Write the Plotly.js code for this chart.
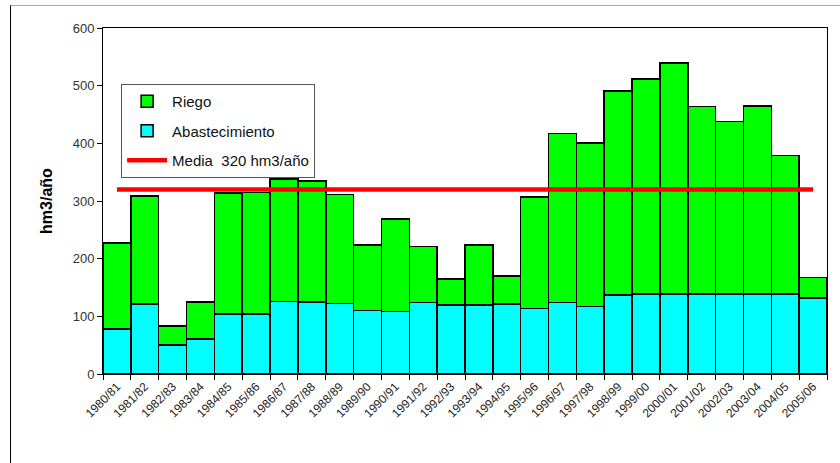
<!DOCTYPE html>
<html>
<head>
<meta charset="utf-8">
<script src="https://cdn.plot.ly/plotly-3.0.1.min.js"></script>
<style>
  body { margin: 0; padding: 0; background: #fff; }
  #chart { position: absolute; left: 0; top: 0; width: 840px; height: 463px; }
  #frame { position: absolute; left: 10px; top: 5px; width: 830px; height: 458px;
           border-top: 1px solid #aaaaaa; border-left: 1px solid #000; pointer-events: none; box-sizing: border-box; }
</style>
</head>
<body>
<div id="chart"></div>
<div id="frame"></div>
<script>
const categories = ["1980/81","1981/82","1982/83","1983/84","1984/85","1985/86","1986/87","1987/88","1988/89","1989/90","1990/91","1991/92","1992/93","1993/94","1994/95","1995/96","1996/97","1997/98","1998/99","1999/00","2000/01","2001/02","2002/03","2003/04","2004/05","2005/06"];
const abastecimiento = [78,121,50,61,104,104,126,125,122,110,108,124,120,120,121,114,124,117,137,139,139,139,139,139,139,132];
const riego = [149,188,33,64,210,211,212,210,189,114,161,97,45,104,49,193,293,284,354,373,400,325,299,326,240,35];
const mediaValue = 320;
const mediaLabel = "Media  320 hm3/año";
const yTicks = [0,100,200,300,400,500,600];

const traces = [
  { type: "bar", name: "Abastecimiento", x: categories, y: abastecimiento,
    marker: { color: "#00FFFF", line: { color: "#000", width: 1.5 } },
    legendrank: 2, legendgroup: "b", hoverinfo: "x+y" },
  { type: "bar", name: "Riego", x: categories, y: riego,
    marker: { color: "#00FF00", line: { color: "#000", width: 1.5 } },
    legendrank: 1, legendgroup: "a", hoverinfo: "x+y" },
  { type: "scatter", mode: "lines", name: mediaLabel,
    x: [categories[0], categories[categories.length - 1]], y: [mediaValue, mediaValue],
    line: { color: "#FF0000", width: 4.5 }, legendrank: 3, legendgroup: "c" }
];

const layout = {
  width: 840, height: 463,
  margin: { l: 103, r: 13, t: 28, b: 89 },
  paper_bgcolor: "#fff", plot_bgcolor: "#fff",
  barmode: "stack", bargap: 0,
  font: { family: "Arial, Liberation Sans, sans-serif", color: "#222" },
  showlegend: true,
  legend: {
    x: 0.025, y: 0.838, xanchor: "left", yanchor: "top",
    bordercolor: "#555", borderwidth: 1, bgcolor: "#fff",
    font: { size: 15, color: "#111" }, itemwidth: 40,
    traceorder: "grouped", tracegroupgap: 7
  },
  xaxis: {
    type: "category", tickangle: -45, tickfont: { size: 12, color: "#222" },
    showline: true, linecolor: "#000", linewidth: 1, mirror: true,
    ticks: "outside", ticklen: 5, tickcolor: "#000", tickson: "boundaries",
    showgrid: false, zeroline: false
  },
  yaxis: {
    range: [0, 600], tickvals: yTicks, ticktext: yTicks.map(String),
    tickfont: { size: 13, color: "#333" },
    showline: true, linecolor: "#000", linewidth: 1, mirror: true,
    ticks: "outside", ticklen: 5, tickcolor: "#000",
    showgrid: false, zeroline: false,
    title: { text: "<b>hm3/año</b>", font: { size: 16, color: "#000" }, standoff: 16 }
  }
};

Plotly.newPlot("chart", traces, layout, { displayModeBar: false, staticPlot: true });
</script>
</body>
</html>
